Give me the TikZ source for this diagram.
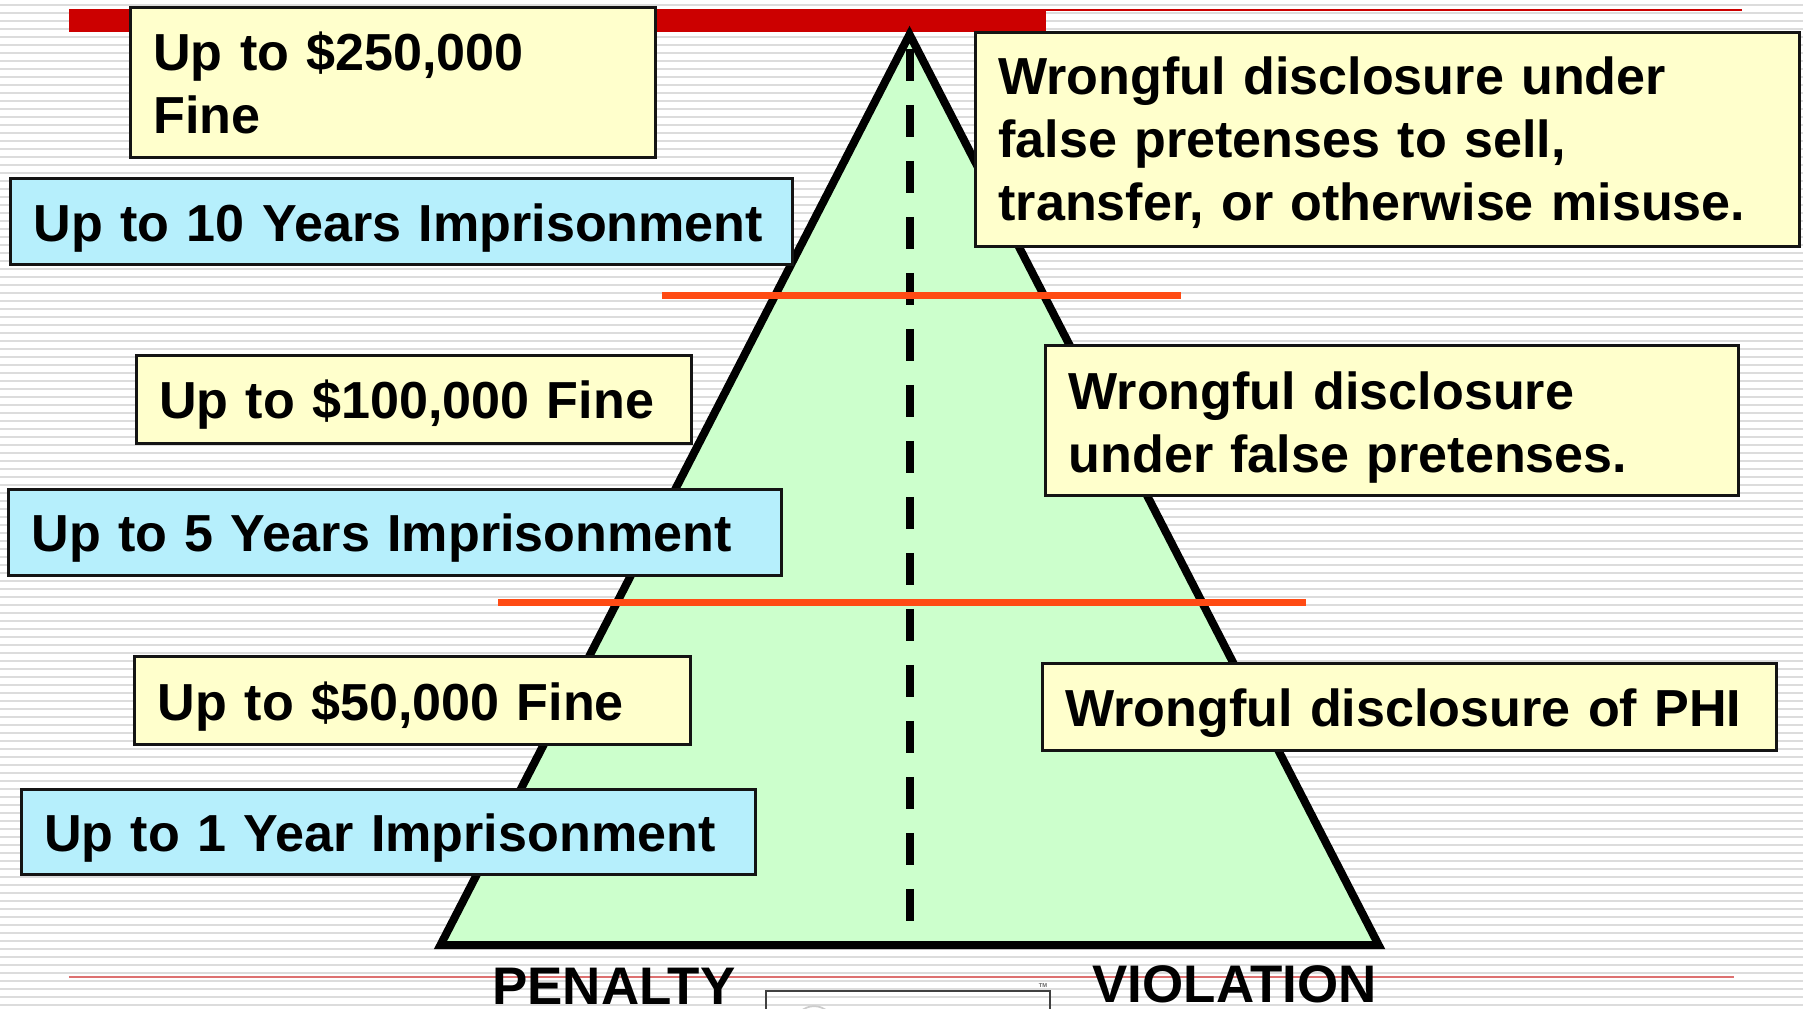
\documentclass[tikz,border=0pt]{standalone}
\usepackage{fontspec}
\setmainfont{Liberation Sans}
\definecolor{barred}{RGB}{204,0,0}
\definecolor{lowred}{RGB}{221,112,112}
\definecolor{orangeline}{RGB}{255,75,20}
\definecolor{trigreen}{RGB}{204,255,204}
\definecolor{yel}{RGB}{255,255,204}
\definecolor{cyn}{RGB}{182,239,252}
\definecolor{boxline}{RGB}{20,20,20}
\definecolor{stripe}{RGB}{220,220,220}
\begin{document}
\begin{tikzpicture}[x=1pt,y=-1pt,
  bigfont/.style={font=\fontsize{45.3}{55}\selectfont\bfseries},
  box/.style={draw=boxline, line width=2.6pt, anchor=north west, inner xsep=20pt, inner ysep=0pt, align=left, bigfont},
  ybox/.style={box, fill=yel},
  cbox/.style={box, fill=cyn},
  oneline/.style={text height=34pt, text depth=0pt},
  tri/.style={draw=black, line width=7pt, fill=trigreen, line join=miter},
  midline/.style={draw=black, line width=7pt, dash pattern=on 27.8pt off 20.9pt},
  cutline/.style={draw=orangeline, line width=6pt},
  bgline/.style={draw=stripe, line width=1.8pt},
  axislabel/.style={font=\fontsize{46}{55}\selectfont\bfseries, anchor=base west, inner sep=0pt}
]
\useasboundingbox (0,0) rectangle (1568,877);
\clip (0,0) rectangle (1568,877);
\fill[white] (0,0) rectangle (1568,877);
% background stripes
\foreach \k in {0,...,125}{
  \draw[bgline] (0,{(5+8*\k)/1.15}) -- (1568,{(5+8*\k)/1.15});
}
% top red rule and thick bar
\draw[barred, line width=1.7pt] (60,8.7) -- (1515,8.7);
\fill[barred] (60,8) rectangle (910,28);
% bottom rule
\draw[lowred, line width=1.7pt] (60,849.5) -- (1508,849.5);
% bottom partial box
\draw[gray!40, line width=1.5pt] (708,892) circle (17);
\draw[black!75, line width=1.8pt] (666,890) -- (666,862) -- (913,862) -- (913,890);
\node[font=\fontsize{5}{6}\selectfont\bfseries, text=black!60, inner sep=0pt] (tm) at (907,857) {TM};
% pyramid
\coordinate (apex) at (791,30);
\coordinate (bl) at (383,822);
\coordinate (br) at (1199,822);
\draw[tri] (apex) -- (bl) -- (br) -- cycle;
\coordinate (dtop) at (791,42.6);
\coordinate (dbot) at (791,801);
\draw[midline] (dtop) -- (dbot);
% tier separators
\coordinate (c1a) at (576,257);
\coordinate (c1b) at (1027,257);
\coordinate (c2a) at (433,524);
\coordinate (c2b) at (1136,524);
\draw[cutline] (c1a) -- (c1b);
\draw[cutline] (c2a) -- (c2b);
% penalty boxes
\node[ybox, text width=417pt, minimum height=131pt] (fine250) at (112,5) {Up to \$250,000\\Fine};
\node[cbox, oneline, text width=640pt, minimum height=75pt] (jail10) at (8,154) {\mbox{Up to 10 Years Imprisonment}};
\node[ybox, oneline, text width=443pt, minimum height=76pt] (fine100) at (117,308) {\mbox{Up to \$100,000 Fine}};
\node[cbox, oneline, text width=632pt, minimum height=75pt] (jail5) at (6,424) {\mbox{Up to 5 Years Imprisonment}};
\node[ybox, oneline, text width=443pt, minimum height=76pt] (fine50) at (116,570) {\mbox{Up to \$50,000 Fine}};
\node[cbox, oneline, text width=599pt, minimum height=74pt] (jail1) at (17,685) {\mbox{Up to 1 Year Imprisonment}};
% violation boxes
\node[ybox, text width=677pt, minimum height=186pt] (misuse) at (847,27) {\rule{0pt}{38pt}Wrongful disclosure under\\false pretenses to sell,\\transfer, or otherwise misuse.};
\node[ybox, text width=563pt, minimum height=131pt] (pretense) at (908,299) {\rule{0pt}{45pt}Wrongful disclosure\\under false pretenses.};
\node[ybox, oneline, text width=599pt, minimum height=75pt] (phi) at (905,576) {\mbox{Wrongful disclosure of PHI}};
% axis labels
\node[axislabel] (penalty) at (428,874) {PENALTY};
\node[axislabel] (violation) at (950,872) {VIOLATION};
\end{tikzpicture}
\end{document}
